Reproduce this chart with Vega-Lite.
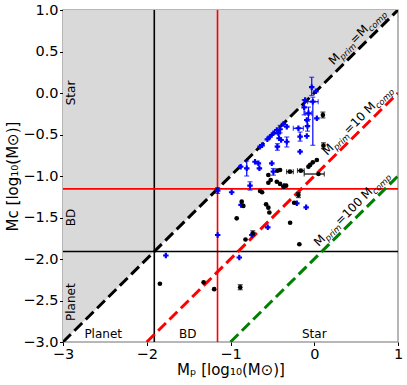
{
  "$schema": "https://vega.github.io/schema/vega-lite/v6.json",
  "width": 335,
  "height": 332,
  "autosize": {"type": "none"},
  "padding": {"left": 63, "top": 10, "right": 9, "bottom": 43},
  "background": "white",
  "config": {
    "view": {"stroke": "#a0a0a0", "strokeWidth": 1.5},
    "axis": {
      "domain": false, "grid": false, "tickColor": "#000000", "tickSize": 3.5, "tickWidth": 1,
      "labelFont": "DejaVu Sans", "labelFontSize": 14.5, "labelColor": "#000000", "labelPadding": 1.5,
      "labelFlush": false, "labelOverlap": false,
      "titleFont": "DejaVu Sans", "titleFontSize": 15, "titleFontWeight": "normal", "titleColor": "#000000", "titlePadding": 2
    },
    "text": {"font": "DejaVu Sans"}
  },
  "resolve": {"scale": {"color": "independent", "shape": "independent", "size": "independent"}},
  "datasets": {
    "pts": [
      {"g": "A", "x": -0.03, "y": 0.07, "ylo": -0.03, "yhi": 0.19},
      {"g": "A", "x": 0.02, "y": 0.02},
      {"g": "A", "x": -0.017, "y": -0.105, "xlo": -0.08, "xhi": 0.047, "ylo": -0.63, "yhi": -0.05},
      {"g": "A", "x": -0.109, "y": -0.084},
      {"g": "A", "x": -0.121, "y": -0.173, "ylo": -0.263, "yhi": -0.083},
      {"g": "A", "x": -0.069, "y": -0.245, "xlo": -0.11, "xhi": -0.03, "ylo": -0.32, "yhi": -0.17},
      {"g": "A", "x": -0.089, "y": -0.325},
      {"g": "A", "x": -0.081, "y": -0.398, "ylo": -0.46, "yhi": -0.34},
      {"g": "A", "x": -0.189, "y": -0.425, "xlo": -0.25, "xhi": -0.13},
      {"g": "A", "x": 0.031, "y": -0.305},
      {"g": "A", "x": -0.169, "y": -0.526, "ylo": -0.58, "yhi": -0.47},
      {"g": "A", "x": -0.089, "y": -0.518},
      {"g": "A", "x": -0.328, "y": -0.406},
      {"g": "A", "x": -0.368, "y": -0.373},
      {"g": "A", "x": -0.408, "y": -0.437, "ylo": -0.48, "yhi": -0.39},
      {"g": "A", "x": -0.447, "y": -0.446},
      {"g": "A", "x": -0.428, "y": -0.486},
      {"g": "A", "x": -0.488, "y": -0.486},
      {"g": "A", "x": -0.528, "y": -0.526},
      {"g": "A", "x": -0.56, "y": -0.558},
      {"g": "A", "x": -0.328, "y": -0.587, "ylo": -0.65, "yhi": -0.53},
      {"g": "A", "x": -0.42, "y": -0.545},
      {"g": "A", "x": -0.396, "y": -0.566},
      {"g": "A", "x": -0.44, "y": -0.647, "ylo": -0.69, "yhi": -0.61},
      {"g": "A", "x": -0.647, "y": -0.647},
      {"g": "A", "x": -0.623, "y": -0.63},
      {"g": "A", "x": -0.169, "y": -0.707},
      {"g": "A", "x": -0.707, "y": -0.828},
      {"g": "A", "x": -0.667, "y": -0.847},
      {"g": "A", "x": -0.655, "y": -0.907},
      {"g": "A", "x": -0.806, "y": -0.907, "ylo": -1.0, "yhi": -0.82},
      {"g": "A", "x": -0.878, "y": -0.888},
      {"g": "A", "x": -0.488, "y": -0.948, "ylo": -0.99, "yhi": -0.91},
      {"g": "A", "x": -0.507, "y": -0.847},
      {"g": "A", "x": -0.767, "y": -1.117, "ylo": -1.17, "yhi": -1.07},
      {"g": "A", "x": -0.986, "y": -1.196},
      {"g": "A", "x": -1.153, "y": -1.177, "ylo": -1.21, "yhi": -1.14},
      {"g": "A", "x": -0.208, "y": -1.329},
      {"g": "A", "x": -0.097, "y": -1.377},
      {"g": "A", "x": -0.874, "y": -1.349},
      {"g": "A", "x": -0.555, "y": -1.618},
      {"g": "A", "x": -1.153, "y": -1.711},
      {"g": "A", "x": -0.895, "y": -1.982},
      {"g": "A", "x": -1.772, "y": -1.958},
      {"g": "A", "x": -0.36, "y": -1.12},
      {"g": "A", "x": -0.745, "y": -1.711},
      {"g": "B", "x": 0.103, "y": -0.265, "ylo": -0.3, "yhi": -0.23},
      {"g": "B", "x": 0.11, "y": -0.635, "ylo": -0.67, "yhi": -0.6},
      {"g": "B", "x": 0.031, "y": -0.807},
      {"g": "B", "x": -0.017, "y": -0.835},
      {"g": "B", "x": -0.049, "y": -0.867},
      {"g": "B", "x": -0.069, "y": -0.888},
      {"g": "B", "x": -0.16, "y": -0.936, "xlo": -0.2, "xhi": -0.12},
      {"g": "B", "x": -0.29, "y": -0.948, "xlo": -0.33, "xhi": -0.25},
      {"g": "B", "x": -0.408, "y": -0.928},
      {"g": "B", "x": -0.44, "y": -0.936},
      {"g": "B", "x": -0.548, "y": -0.988},
      {"g": "B", "x": -0.52, "y": -1.048},
      {"g": "B", "x": -0.548, "y": -1.081},
      {"g": "B", "x": -0.447, "y": -1.069},
      {"g": "B", "x": -0.408, "y": -1.096},
      {"g": "B", "x": -0.368, "y": -1.129},
      {"g": "B", "x": -0.336, "y": -1.117},
      {"g": "B", "x": 0.05, "y": -0.976, "xlo": -0.12, "xhi": 0.12},
      {"g": "B", "x": -0.647, "y": -1.181},
      {"g": "B", "x": -0.623, "y": -1.196},
      {"g": "B", "x": -0.189, "y": -1.229, "ylo": -1.26, "yhi": -1.2},
      {"g": "B", "x": -0.866, "y": -1.309},
      {"g": "B", "x": -0.847, "y": -1.361},
      {"g": "B", "x": -0.575, "y": -1.341},
      {"g": "B", "x": -0.548, "y": -1.382},
      {"g": "B", "x": -0.536, "y": -1.44},
      {"g": "B", "x": -0.926, "y": -1.51},
      {"g": "B", "x": -0.288, "y": -1.563},
      {"g": "B", "x": -0.734, "y": -1.69, "ylo": -1.72, "yhi": -1.66},
      {"g": "B", "x": -0.821, "y": -1.765},
      {"g": "B", "x": -0.178, "y": -1.822},
      {"g": "B", "x": -1.843, "y": -2.298},
      {"g": "B", "x": -1.321, "y": -2.281},
      {"g": "B", "x": -1.195, "y": -2.364},
      {"g": "B", "x": -0.884, "y": -2.34, "ylo": -2.37, "yhi": -2.31},
      {"g": "B", "x": -0.24, "y": -1.322}
    ],
    "diag": [
      {"k": "1", "x1": -3, "y1": -3, "x2": 1, "y2": 1, "lx": 0.23, "ly": 0.33, "mid": "=M"},
      {"k": "10", "x1": -2, "y1": -3, "x2": 1, "y2": 0, "lx": 0.155, "ly": -0.76, "mid": "=10 M"},
      {"k": "100", "x1": -1, "y1": -3, "x2": 1, "y2": -1, "lx": 0.055, "ly": -1.855, "mid": "=100 M"}
    ],
    "lim": [
      {"k": "deut", "v": -1.91},
      {"k": "hyd", "v": -1.155}
    ],
    "zonesH": [
      {"t": "Planet", "x": -2.52, "y": -2.9},
      {"t": "BD", "x": -1.51, "y": -2.9},
      {"t": "Star", "x": 0.0, "y": -2.9}
    ],
    "zonesV": [
      {"t": "Star", "x": -2.9, "y": 0.0},
      {"t": "BD", "x": -2.9, "y": -1.5},
      {"t": "Planet", "x": -2.9, "y": -2.52}
    ]
  },
  "layer": [
    {
      "data": {"values": [{"x": -3, "lo": -3, "hi": 1}, {"x": 1, "lo": 1, "hi": 1}]},
      "mark": {"type": "area", "color": "#d9d9d9", "clip": true},
      "encoding": {
        "x": {"field": "x", "type": "quantitative", "scale": {"domain": [-3, 1], "nice": false, "zero": false},
              "axis": {"values": [-3, -2, -1, 0, 1], "format": "d"}, "title": "Mₚ [log₁₀(M⊙)]"},
        "y": {"field": "lo", "type": "quantitative", "scale": {"domain": [-3, 1], "nice": false, "zero": false},
              "axis": {"values": [-3, -2.5, -2, -1.5, -1, -0.5, 0, 0.5, 1], "format": ".1f"}, "title": "Mc [log₁₀(M⊙)]"},
        "y2": {"field": "hi"}
      }
    },
    {
      "data": {"name": "lim"},
      "mark": {"type": "rule", "strokeWidth": 1.6, "clip": true},
      "encoding": {
        "x": {"field": "v", "type": "quantitative", "scale": {"domain": [-3, 1], "nice": false, "zero": false}, "title": "Mₚ [log₁₀(M⊙)]"},
        "color": {"field": "k", "type": "nominal", "scale": {"domain": ["deut", "hyd"], "range": ["#000000", "#ff0000"]}, "legend": null}
      }
    },
    {
      "data": {"name": "lim"},
      "mark": {"type": "rule", "strokeWidth": 1.6, "clip": true},
      "encoding": {
        "y": {"field": "v", "type": "quantitative", "scale": {"domain": [-3, 1], "nice": false, "zero": false}, "title": "Mc [log₁₀(M⊙)]"},
        "color": {"field": "k", "type": "nominal", "scale": {"domain": ["deut", "hyd"], "range": ["#000000", "#ff0000"]}, "legend": null}
      }
    },
    {
      "data": {"name": "diag"},
      "mark": {"type": "rule", "strokeWidth": 3, "strokeDash": [11, 5], "clip": true},
      "encoding": {
        "x": {"field": "x1", "type": "quantitative", "scale": {"domain": [-3, 1], "nice": false, "zero": false}, "title": "Mₚ [log₁₀(M⊙)]"},
        "y": {"field": "y1", "type": "quantitative", "scale": {"domain": [-3, 1], "nice": false, "zero": false}, "title": "Mc [log₁₀(M⊙)]"},
        "x2": {"field": "x2"},
        "y2": {"field": "y2"},
        "color": {"field": "k", "type": "nominal", "scale": {"domain": ["1", "10", "100"], "range": ["#000000", "#ff0000", "#008000"]}, "legend": null}
      }
    },
    {
      "data": {"name": "pts"},
      "transform": [{"filter": "isValid(datum.ylo)"}],
      "mark": {"type": "rule", "strokeWidth": 1.2},
      "encoding": {
        "x": {"field": "x", "type": "quantitative", "scale": {"domain": [-3, 1], "nice": false, "zero": false}, "title": "Mₚ [log₁₀(M⊙)]"},
        "y": {"field": "ylo", "type": "quantitative", "scale": {"domain": [-3, 1], "nice": false, "zero": false}, "title": "Mc [log₁₀(M⊙)]"},
        "y2": {"field": "yhi"},
        "color": {"field": "g", "type": "nominal", "scale": {"domain": ["A", "B"], "range": ["#0000ff", "#000000"]}, "legend": null}
      }
    },
    {
      "data": {"name": "pts"},
      "transform": [{"filter": "isValid(datum.xlo)"}],
      "mark": {"type": "rule", "strokeWidth": 1.2},
      "encoding": {
        "x": {"field": "xlo", "type": "quantitative", "scale": {"domain": [-3, 1], "nice": false, "zero": false}, "title": "Mₚ [log₁₀(M⊙)]"},
        "x2": {"field": "xhi"},
        "y": {"field": "y", "type": "quantitative", "scale": {"domain": [-3, 1], "nice": false, "zero": false}, "title": "Mc [log₁₀(M⊙)]"},
        "color": {"field": "g", "type": "nominal", "scale": {"domain": ["A", "B"], "range": ["#0000ff", "#000000"]}, "legend": null}
      }
    },
    {
      "data": {"name": "pts"},
      "transform": [{"filter": "isValid(datum.ylo)"}, {"fold": ["ylo", "yhi"], "as": ["end", "cap"]}],
      "mark": {"type": "tick", "orient": "horizontal", "size": 5, "thickness": 1.2},
      "encoding": {
        "x": {"field": "x", "type": "quantitative", "scale": {"domain": [-3, 1], "nice": false, "zero": false}, "title": "Mₚ [log₁₀(M⊙)]"},
        "y": {"field": "cap", "type": "quantitative", "scale": {"domain": [-3, 1], "nice": false, "zero": false}, "title": "Mc [log₁₀(M⊙)]"},
        "color": {"field": "g", "type": "nominal", "scale": {"domain": ["A", "B"], "range": ["#0000ff", "#000000"]}, "legend": null}
      }
    },
    {
      "data": {"name": "pts"},
      "transform": [{"filter": "isValid(datum.xlo)"}, {"fold": ["xlo", "xhi"], "as": ["end", "cap"]}],
      "mark": {"type": "tick", "orient": "vertical", "size": 5, "thickness": 1.2},
      "encoding": {
        "x": {"field": "cap", "type": "quantitative", "scale": {"domain": [-3, 1], "nice": false, "zero": false}, "title": "Mₚ [log₁₀(M⊙)]"},
        "y": {"field": "y", "type": "quantitative", "scale": {"domain": [-3, 1], "nice": false, "zero": false}, "title": "Mc [log₁₀(M⊙)]"},
        "color": {"field": "g", "type": "nominal", "scale": {"domain": ["A", "B"], "range": ["#0000ff", "#000000"]}, "legend": null}
      }
    },
    {
      "data": {"name": "pts"},
      "mark": {"type": "point", "filled": true, "opacity": 1},
      "encoding": {
        "x": {"field": "x", "type": "quantitative", "scale": {"domain": [-3, 1], "nice": false, "zero": false}, "title": "Mₚ [log₁₀(M⊙)]"},
        "y": {"field": "y", "type": "quantitative", "scale": {"domain": [-3, 1], "nice": false, "zero": false}, "title": "Mc [log₁₀(M⊙)]"},
        "color": {"field": "g", "type": "nominal", "scale": {"domain": ["A", "B"], "range": ["#0000ff", "#000000"]}, "legend": null},
        "shape": {"field": "g", "type": "nominal", "scale": {"domain": ["A", "B"], "range": ["cross", "circle"]}, "legend": null},
        "size": {"field": "g", "type": "nominal", "scale": {"domain": ["A", "B"], "range": [30, 22]}, "legend": null}
      }
    },
    {
      "data": {"name": "zonesH"},
      "mark": {"type": "text", "fontSize": 12, "align": "center", "baseline": "middle", "color": "#000000"},
      "encoding": {
        "x": {"field": "x", "type": "quantitative", "scale": {"domain": [-3, 1], "nice": false, "zero": false}, "title": "Mₚ [log₁₀(M⊙)]"},
        "y": {"field": "y", "type": "quantitative", "scale": {"domain": [-3, 1], "nice": false, "zero": false}, "title": "Mc [log₁₀(M⊙)]"},
        "text": {"field": "t"}
      }
    },
    {
      "data": {"name": "zonesV"},
      "mark": {"type": "text", "fontSize": 12, "align": "center", "baseline": "middle", "angle": 270, "color": "#000000"},
      "encoding": {
        "x": {"field": "x", "type": "quantitative", "scale": {"domain": [-3, 1], "nice": false, "zero": false}, "title": "Mₚ [log₁₀(M⊙)]"},
        "y": {"field": "y", "type": "quantitative", "scale": {"domain": [-3, 1], "nice": false, "zero": false}, "title": "Mc [log₁₀(M⊙)]"},
        "text": {"field": "t"}
      }
    },
    {
      "data": {"name": "diag"},
      "mark": {"type": "text", "fontSize": 12, "align": "left", "baseline": "alphabetic", "angle": 315, "color": "#000000"},
      "encoding": {
        "x": {"field": "lx", "type": "quantitative", "scale": {"domain": [-3, 1], "nice": false, "zero": false}, "title": "Mₚ [log₁₀(M⊙)]"},
        "y": {"field": "ly", "type": "quantitative", "scale": {"domain": [-3, 1], "nice": false, "zero": false}, "title": "Mc [log₁₀(M⊙)]"},
        "text": {"value": "M"}
      }
    },
    {
      "data": {"name": "diag"},
      "mark": {"type": "text", "fontSize": 8.5, "fontStyle": "italic", "align": "left", "baseline": "alphabetic", "angle": 315, "dx": 10.4, "dy": 3, "color": "#000000"},
      "encoding": {
        "x": {"field": "lx", "type": "quantitative", "scale": {"domain": [-3, 1], "nice": false, "zero": false}, "title": "Mₚ [log₁₀(M⊙)]"},
        "y": {"field": "ly", "type": "quantitative", "scale": {"domain": [-3, 1], "nice": false, "zero": false}, "title": "Mc [log₁₀(M⊙)]"},
        "text": {"value": "prim"}
      }
    },
    {
      "data": {"name": "diag"},
      "mark": {"type": "text", "fontSize": 12, "align": "left", "baseline": "alphabetic", "angle": 315, "dx": 30, "color": "#000000"},
      "encoding": {
        "x": {"field": "lx", "type": "quantitative", "scale": {"domain": [-3, 1], "nice": false, "zero": false}, "title": "Mₚ [log₁₀(M⊙)]"},
        "y": {"field": "ly", "type": "quantitative", "scale": {"domain": [-3, 1], "nice": false, "zero": false}, "title": "Mc [log₁₀(M⊙)]"},
        "text": {"field": "mid"}
      }
    },
    {
      "data": {"name": "diag"},
      "transform": [{"filter": "datum.k == '1'"}],
      "mark": {"type": "text", "fontSize": 8.5, "fontStyle": "italic", "align": "left", "baseline": "alphabetic", "angle": 315, "dx": 50.5, "dy": 3, "color": "#000000"},
      "encoding": {
        "x": {"field": "lx", "type": "quantitative", "scale": {"domain": [-3, 1], "nice": false, "zero": false}, "title": "Mₚ [log₁₀(M⊙)]"},
        "y": {"field": "ly", "type": "quantitative", "scale": {"domain": [-3, 1], "nice": false, "zero": false}, "title": "Mc [log₁₀(M⊙)]"},
        "text": {"value": "comp"}
      }
    },
    {
      "data": {"name": "diag"},
      "transform": [{"filter": "datum.k == '10'"}],
      "mark": {"type": "text", "fontSize": 8.5, "fontStyle": "italic", "align": "left", "baseline": "alphabetic", "angle": 315, "dx": 69.5, "dy": 3, "color": "#000000"},
      "encoding": {
        "x": {"field": "lx", "type": "quantitative", "scale": {"domain": [-3, 1], "nice": false, "zero": false}, "title": "Mₚ [log₁₀(M⊙)]"},
        "y": {"field": "ly", "type": "quantitative", "scale": {"domain": [-3, 1], "nice": false, "zero": false}, "title": "Mc [log₁₀(M⊙)]"},
        "text": {"value": "comp"}
      }
    },
    {
      "data": {"name": "diag"},
      "transform": [{"filter": "datum.k == '100'"}],
      "mark": {"type": "text", "fontSize": 8.5, "fontStyle": "italic", "align": "left", "baseline": "alphabetic", "angle": 315, "dx": 77, "dy": 3, "color": "#000000"},
      "encoding": {
        "x": {"field": "lx", "type": "quantitative", "scale": {"domain": [-3, 1], "nice": false, "zero": false}, "title": "Mₚ [log₁₀(M⊙)]"},
        "y": {"field": "ly", "type": "quantitative", "scale": {"domain": [-3, 1], "nice": false, "zero": false}, "title": "Mc [log₁₀(M⊙)]"},
        "text": {"value": "comp"}
      }
    }
  ]
}
